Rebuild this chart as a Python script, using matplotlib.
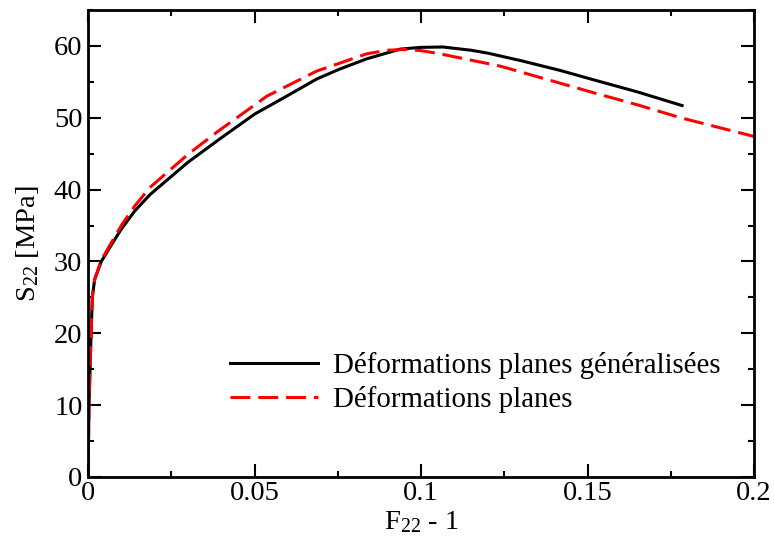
import matplotlib
matplotlib.use('Agg')
import matplotlib.pyplot as plt
from matplotlib.ticker import MultipleLocator

plt.rcParams['font.family'] = ['Liberation Serif', 'DejaVu Serif']
plt.rcParams['mathtext.fontset'] = 'custom'
plt.rcParams['mathtext.rm'] = 'Liberation Serif'
plt.rcParams['mathtext.it'] = 'Liberation Serif:italic'

# values
gen_x = [0, 0.0003, 0.0008, 0.0013, 0.002, 0.004, 0.007, 0.01, 0.014, 0.0186,
         0.03, 0.04, 0.05, 0.06, 0.0687, 0.0757, 0.0837, 0.0937, 0.1,
         0.1066, 0.115, 0.12, 0.13, 0.1417, 0.1517, 0.165, 0.1784]
gen_y = [0, 10, 18, 25, 27.5, 30, 32.3, 34.5, 37.0, 39.3,
         43.8, 47.2, 50.5, 53.1, 55.4, 56.8, 58.2, 59.55, 59.8,
         59.85, 59.4, 59.0, 57.95, 56.6, 55.3, 53.6, 51.7]

pla_x = [0, 0.0003, 0.0008, 0.0013, 0.002, 0.004, 0.007, 0.01, 0.014, 0.0186,
         0.03, 0.0387, 0.0537, 0.0687, 0.0837, 0.09, 0.095, 0.1, 0.1057,
         0.1237, 0.1396, 0.1517, 0.165, 0.178, 0.2]
pla_y = [0, 10, 18, 25, 27.5, 30.2, 32.6, 35.0, 37.7, 40.3,
         44.9, 48.0, 53.0, 56.5, 58.9, 59.4, 59.5, 59.35, 58.9,
         57.2, 55.1, 53.5, 51.8, 50.0, 47.4]

labels = ['Déformations planes généralisées', 'Déformations planes']

W, H = 774, 547
fig = plt.figure(figsize=(W / 100, H / 100), dpi=100)
ax = fig.add_axes([88 / W, 1 - 477 / H, 666 / W, 467 / H])

ax.plot(gen_x, gen_y, color='black', lw=2.2, label=labels[0])
ax.plot(pla_x, pla_y, color='red', lw=2.2, dashes=(6.5, 2.6), label=labels[1])

ax.set_xlim(0, 0.2)
ax.set_ylim(0, 65)
ax.xaxis.set_minor_locator(MultipleLocator(0.025))
ax.yaxis.set_major_locator(MultipleLocator(10))
ax.yaxis.set_minor_locator(MultipleLocator(5))
ax.set_xticks([0, 0.05, 0.1, 0.15, 0.2])
ax.set_xticklabels(['0', '0.05', '0.1', '0.15', '0.2'])

ax.tick_params(which='both', direction='in', top=True, right=True,
               width=1.5, labelsize=20.5)
ax.tick_params(axis='x', pad=3)
ax.tick_params(axis='y', pad=4)
ax.tick_params(which='major', length=9.5)
ax.tick_params(which='minor', length=4.5)
for s in ax.spines.values():
    s.set_linewidth(2)

ax.set_xlabel('F$_{22}$ - 1', fontsize=20.5)
ax.set_ylabel('S$_{22}$ [MPa]', fontsize=20.5)
ax.xaxis.set_label_coords(0.5, -32 / 467)
ax.yaxis.set_label_coords(-47 / 666, 0.5)

ax.legend(loc='upper left', bbox_to_anchor=(142 / 666, 125 / 467), frameon=False,
          fontsize=20.8, borderpad=0, borderaxespad=0, handlelength=3.05,
          handletextpad=0.5, labelspacing=0.24)

fig.savefig('out.png', dpi=100, facecolor='white')
